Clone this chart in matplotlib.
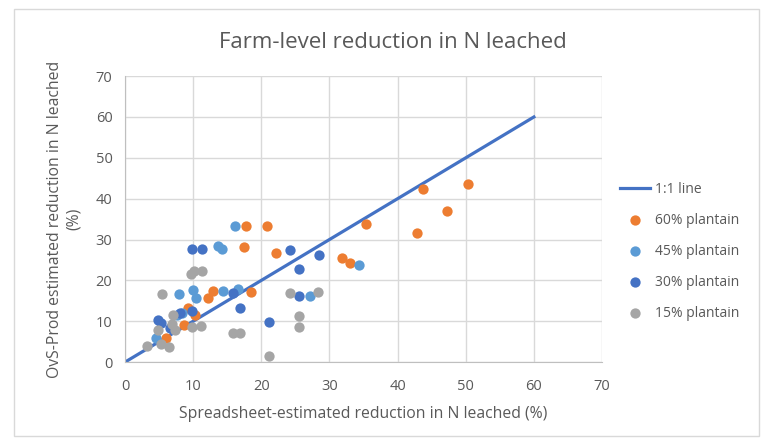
import matplotlib
matplotlib.use("Agg")
import matplotlib.pyplot as plt
from matplotlib.patches import Rectangle

plt.rcParams['font.family'] = ['Open Sans', 'DejaVu Sans']

line_x = [0, 60]
line_y = [0, 60]

p60_x = [50.4, 43.8, 47.3, 42.9, 35.4, 31.8, 33.0, 20.8, 17.8, 17.5, 22.1, 18.5, 12.2, 12.9, 9.2, 10.2, 8.6, 6.0]
p60_y = [43.6, 42.3, 36.9, 31.6, 33.7, 25.6, 24.3, 33.2, 33.2, 28.2, 26.8, 17.2, 15.8, 17.4, 13.2, 11.6, 9.0, 5.9]

p45_x = [16.2, 13.6, 14.2, 7.9, 10.0, 10.4, 14.4, 16.6, 27.2, 34.3, 8.3, 4.5, 7.6]
p45_y = [33.2, 28.3, 27.6, 16.6, 17.6, 15.7, 17.3, 17.9, 16.2, 23.7, 12.0, 5.9, 11.5]

p30_x = [9.9, 11.3, 24.2, 28.4, 25.6, 25.6, 15.8, 16.9, 21.1, 9.9, 4.9, 5.3, 6.6, 8.1]
p30_y = [27.8, 27.8, 27.5, 26.2, 22.7, 16.2, 16.8, 13.3, 9.8, 12.5, 10.4, 9.6, 8.4, 12.0]

p15_x = [5.5, 9.7, 10.1, 11.3, 24.2, 28.3, 25.6, 25.6, 21.1, 15.8, 16.9, 11.1, 9.9, 7.1, 6.9, 7.4, 4.9, 5.3, 6.4, 3.3]
p15_y = [16.6, 21.6, 22.3, 22.2, 16.8, 17.2, 11.3, 8.7, 1.6, 7.1, 7.2, 8.9, 8.5, 11.6, 9.4, 7.9, 7.9, 4.5, 3.8, 4.0]

ticks = [0, 10, 20, 30, 40, 50, 60, 70]

fig = plt.figure(figsize=(7.64, 4.40), dpi=100)
fig.patches.append(Rectangle((0.018, 0.01), 0.975, 0.97, transform=fig.transFigure,
                             fill=False, edgecolor='#D9D9D9', linewidth=1))
ax = fig.add_axes([0.1636, 0.177, 0.6244, 0.650])

ax.plot(line_x, line_y, color='#4472C4', linewidth=2.3, label='1:1 line', zorder=2)
ms = 55
ax.scatter(p60_x, p60_y, s=ms, color='#ED7D31', label='60% plantain', zorder=3, linewidths=0)
ax.scatter(p45_x, p45_y, s=ms, color='#5B9BD5', label='45% plantain', zorder=3, linewidths=0)
ax.scatter(p30_x, p30_y, s=ms, color='#4472C4', label='30% plantain', zorder=3, linewidths=0)
ax.scatter(p15_x, p15_y, s=ms, color='#A5A5A5', label='15% plantain', zorder=3, linewidths=0)

ax.set_xlim(0, 70)
ax.set_ylim(0, 70)
ax.set_xticks(ticks)
ax.set_yticks(ticks)
ax.grid(True, color='#D9D9D9', linewidth=1)
ax.set_axisbelow(True)
for s in ['top', 'right']:
    ax.spines[s].set_visible(False)
for s in ['left', 'bottom']:
    ax.spines[s].set_color('#BFBFBF')
ax.tick_params(length=0, labelsize=10.5, labelcolor='#595959')
ax.tick_params(axis='x', pad=12)
ax.tick_params(axis='y', pad=9)

ax.set_xlabel('Spreadsheet-estimated reduction in N leached (%)', fontsize=11.3, color='#595959', labelpad=9)
ax.set_ylabel('OvS-Prod estimated reduction in N leached\n(%)', fontsize=11.3, color='#595959', labelpad=10,
              linespacing=1.2)
fig.text(0.514, 0.903, 'Farm-level reduction in N leached', ha='center', va='center',
         fontsize=16, color='#595959')

leg = ax.legend(loc='upper left', bbox_to_anchor=(0.795, 0.615), bbox_transform=fig.transFigure,
                frameon=False, fontsize=10, labelcolor='#595959', handlelength=2.2,
                labelspacing=1.15, handletextpad=0.3)

fig.savefig('out.png', dpi=100)
